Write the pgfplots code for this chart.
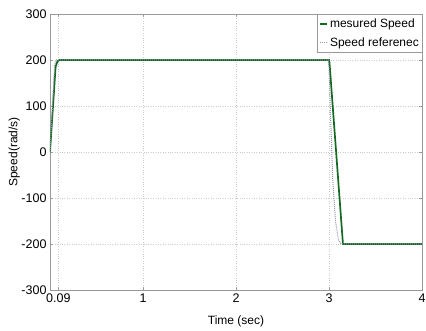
\documentclass[border=0pt]{standalone}
\usepackage{fontspec}
\setmainfont{Liberation Sans}
\usepackage{pgfplots}
\pgfplotsset{compat=1.18}
\definecolor{mgreen}{RGB}{20,105,35}
\definecolor{refgray}{RGB}{150,150,170}
\begin{document}
\begin{tikzpicture}
\begin{axis}[
  scale only axis,
  width=372pt, height=276pt,
  xmin=0, xmax=4, ymin=-300, ymax=300,
  xtick={0.09,1,2,3,4},
  xticklabels={0.09,1,2,3,4},
  ytick={-300,-200,-100,0,100,200,300},
  /pgf/number format/assume math mode=true,
  tick label style={font=\fontsize{12.5}{12.5}\selectfont},
  label style={font=\fontsize{12}{12}\selectfont},
  xlabel={Time (sec)},
  ylabel={Speed(rad/s)},
  xlabel style={yshift=-7pt},
  ylabel style={at={(axis description cs:-0.096,0.5)}, anchor=center},
  grid=major,
  major grid style={gray!40, dotted},
  axis line style={gray!80},
  tick style={gray!80},
  tick align=inside,
  major tick length=3pt,
  legend style={at={(1,1)}, anchor=north east, draw=gray!80, font=\fontsize{12}{13}\selectfont, inner xsep=1pt, inner ysep=3pt, row sep=4pt},
  legend cell align=left,
  legend image post style={xscale=0.45},
]
\addplot[mgreen, line width=1.7pt] coordinates {
(0,0) (0.06,185) (0.08,197) (0.1,200) (3.0,200) (3.005,195) (3.15,-200) (4,-200)
};
\addlegendentry{mesured Speed}
\addplot[refgray, line width=1pt, densely dotted] coordinates {
(0,0) (0.05,190) (0.07,200) (2.99,200) (3.0,185) (3.02,60) (3.04,-60) (3.07,-150) (3.1,-190) (3.13,-200) (4,-200)
};
\addlegendentry{Speed referenec}
\end{axis}
\pgfresetboundingbox
\path (current axis.south west) ++(-50pt,-41pt) coordinate (bl);
\path (current axis.north east) ++(4pt,14pt) coordinate (tr);
\path[use as bounding box] (bl) rectangle (tr);
\end{tikzpicture}
\end{document}
